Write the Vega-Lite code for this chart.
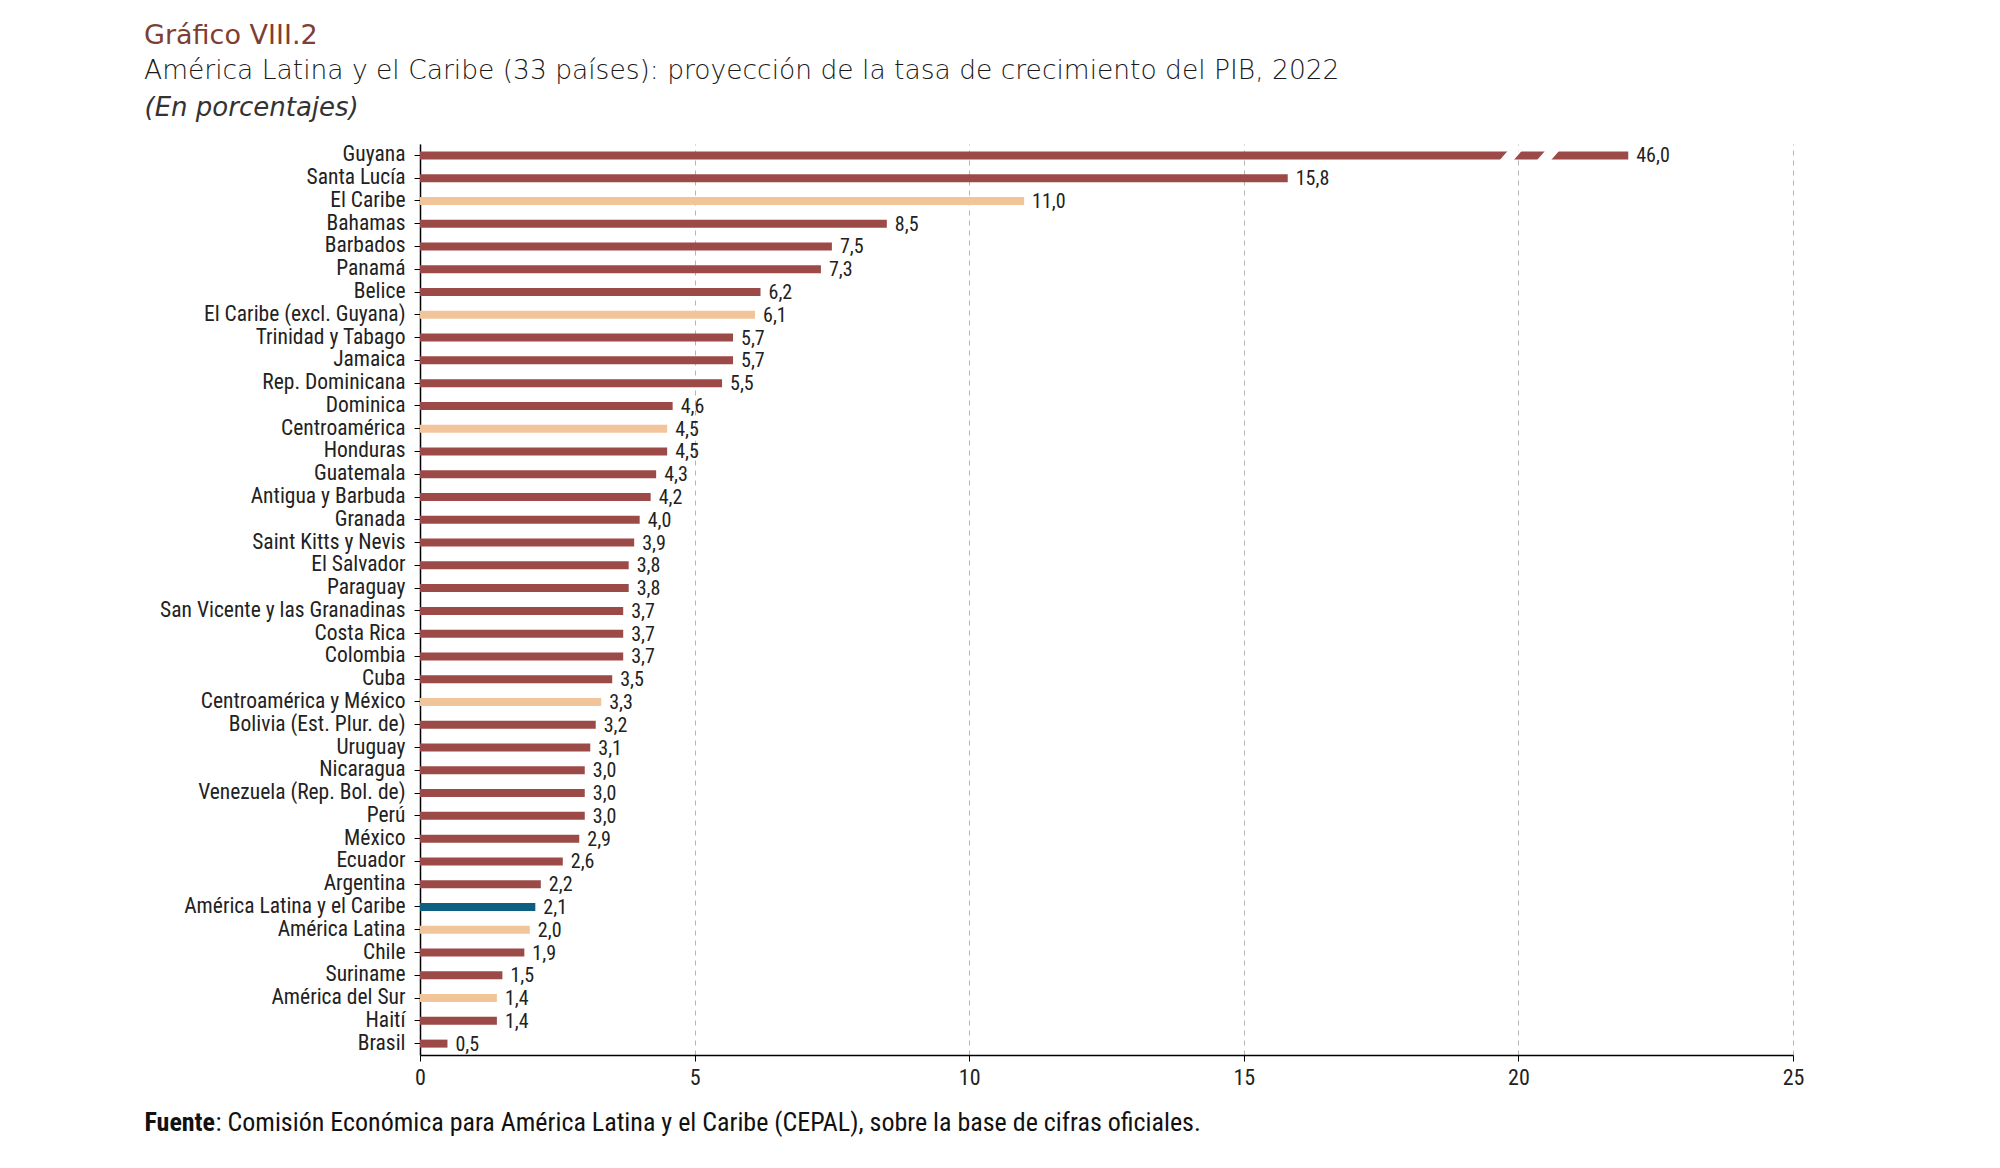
{
  "$schema": "https://vega.github.io/schema/vega-lite/v6.json",
  "width": 1373,
  "height": 911,
  "autosize": {"type": "none"},
  "padding": {"left": 420, "top": 144, "right": 207, "bottom": 113},
  "background": "white",
  "config": {
    "view": {"stroke": null},
    "font": "'Roboto Condensed', 'DejaVu Sans Condensed', 'Liberation Sans Narrow', sans-serif",
    "locale": {"number": {"decimal": ",", "thousands": ".", "grouping": [3], "currency": ["", ""]}}
  },
  "title": {
    "text": "Gráfico VIII.2",
    "subtitle": "América Latina y el Caribe (33 países): proyección de la tasa de crecimiento del PIB, 2022",
    "anchor": "start",
    "frame": "group",
    "dx": -276,
    "font": "DejaVu Sans",
    "fontSize": 27,
    "fontWeight": "normal",
    "color": "#7E3F32",
    "subtitleFont": "DejaVu Sans",
    "subtitleFontSize": 26.5,
    "subtitleFontWeight": 200,
    "subtitleColor": "#1a1a1a",
    "subtitlePadding": 8,
    "offset": 9
  },
  "datasets": {
    "paises": [
      {"pais": "Guyana", "valor": 46.0, "tipo": "país"},
      {"pais": "Santa Lucía", "valor": 15.8, "tipo": "país"},
      {"pais": "El Caribe", "valor": 11.0, "tipo": "subregión"},
      {"pais": "Bahamas", "valor": 8.5, "tipo": "país"},
      {"pais": "Barbados", "valor": 7.5, "tipo": "país"},
      {"pais": "Panamá", "valor": 7.3, "tipo": "país"},
      {"pais": "Belice", "valor": 6.2, "tipo": "país"},
      {"pais": "El Caribe (excl. Guyana)", "valor": 6.1, "tipo": "subregión"},
      {"pais": "Trinidad y Tabago", "valor": 5.7, "tipo": "país"},
      {"pais": "Jamaica", "valor": 5.7, "tipo": "país"},
      {"pais": "Rep. Dominicana", "valor": 5.5, "tipo": "país"},
      {"pais": "Dominica", "valor": 4.6, "tipo": "país"},
      {"pais": "Centroamérica", "valor": 4.5, "tipo": "subregión"},
      {"pais": "Honduras", "valor": 4.5, "tipo": "país"},
      {"pais": "Guatemala", "valor": 4.3, "tipo": "país"},
      {"pais": "Antigua y Barbuda", "valor": 4.2, "tipo": "país"},
      {"pais": "Granada", "valor": 4.0, "tipo": "país"},
      {"pais": "Saint Kitts y Nevis", "valor": 3.9, "tipo": "país"},
      {"pais": "El Salvador", "valor": 3.8, "tipo": "país"},
      {"pais": "Paraguay", "valor": 3.8, "tipo": "país"},
      {"pais": "San Vicente y las Granadinas", "valor": 3.7, "tipo": "país"},
      {"pais": "Costa Rica", "valor": 3.7, "tipo": "país"},
      {"pais": "Colombia", "valor": 3.7, "tipo": "país"},
      {"pais": "Cuba", "valor": 3.5, "tipo": "país"},
      {"pais": "Centroamérica y México", "valor": 3.3, "tipo": "subregión"},
      {"pais": "Bolivia (Est. Plur. de)", "valor": 3.2, "tipo": "país"},
      {"pais": "Uruguay", "valor": 3.1, "tipo": "país"},
      {"pais": "Nicaragua", "valor": 3.0, "tipo": "país"},
      {"pais": "Venezuela (Rep. Bol. de)", "valor": 3.0, "tipo": "país"},
      {"pais": "Perú", "valor": 3.0, "tipo": "país"},
      {"pais": "México", "valor": 2.9, "tipo": "país"},
      {"pais": "Ecuador", "valor": 2.6, "tipo": "país"},
      {"pais": "Argentina", "valor": 2.2, "tipo": "país"},
      {"pais": "América Latina y el Caribe", "valor": 2.1, "tipo": "región"},
      {"pais": "América Latina", "valor": 2.0, "tipo": "subregión"},
      {"pais": "Chile", "valor": 1.9, "tipo": "país"},
      {"pais": "Suriname", "valor": 1.5, "tipo": "país"},
      {"pais": "América del Sur", "valor": 1.4, "tipo": "subregión"},
      {"pais": "Haití", "valor": 1.4, "tipo": "país"},
      {"pais": "Brasil", "valor": 0.5, "tipo": "país"}
    ],
    "cortes": [
      {"corte": 19.86},
      {"corte": 20.54}
    ]
  },
  "data": {"name": "paises"},
  "encoding": {
    "y": {
      "field": "pais",
      "type": "nominal",
      "sort": null,
      "scale": {"paddingInner": 0, "paddingOuter": 0},
      "axis": {
        "title": "(En porcentajes)",
        "titleFont": "DejaVu Sans",
        "titleFontSize": 26,
        "titleFontStyle": "italic",
        "titleFontWeight": 200,
        "titleColor": "#333333",
        "titleAngle": 0,
        "titleAlign": "left",
        "titleBaseline": "middle",
        "titleX": -276,
        "titleY": -37,
        "labelFontSize": 21.5,
        "labelColor": "#222222",
        "labelPadding": 9,
        "labelLimit": 400,
        "tickSize": 6,
        "tickColor": "#000000",
        "domainColor": "#000000",
        "domainWidth": 1.5,
        "grid": false
      }
    }
  },
  "layer": [
    {
      "transform": [{"calculate": "min(datum.valor, 22)", "as": "fin"}],
      "mark": {"type": "bar", "size": 8},
      "encoding": {
        "x": {
          "field": "fin",
          "type": "quantitative",
          "scale": {"domain": [0, 25], "nice": false},
          "axis": {
            "values": [0, 5, 10, 15, 20, 25],
            "format": "d",
            "labelFlush": false,
            "grid": true,
            "gridDash": [5, 5],
            "gridColor": "#b5b5b5",
            "gridWidth": 1,
            "domainColor": "#000000",
            "domainWidth": 1.5,
            "tickColor": "#000000",
            "tickSize": 6,
            "labelFontSize": 22,
            "labelColor": "#222222",
            "labelPadding": 6,
            "title": ": Comisión Económica para América Latina y el Caribe (CEPAL), sobre la base de cifras oficiales.",
            "titleFontSize": 26,
            "titleFontWeight": "normal",
            "titleColor": "#111111",
            "titleAlign": "left",
            "titleBaseline": "middle",
            "titleX": -205,
            "titleY": 67
          }
        },
        "color": {
          "field": "tipo",
          "type": "nominal",
          "scale": {"domain": ["país", "subregión", "región"], "range": ["#9C4A48", "#F2C49A", "#0D5F82"]},
          "legend": null
        }
      }
    },
    {
      "transform": [{"calculate": "min(datum.valor, 22)", "as": "fin"}],
      "mark": {"type": "text", "align": "left", "baseline": "middle", "dx": 8, "dy": 1, "fontSize": 20, "color": "#222222"},
      "encoding": {
        "x": {
          "field": "fin",
          "type": "quantitative",
          "axis": {
            "orient": "top",
            "domain": false,
            "labels": false,
            "ticks": false,
            "grid": false,
            "title": "Fuente",
            "titleFontSize": 26,
            "titleFontWeight": "bold",
            "titleColor": "#111111",
            "titleAlign": "left",
            "titleBaseline": "middle",
            "titleX": -276,
            "titleY": 978
          }
        },
        "text": {"field": "valor", "type": "quantitative", "format": ".1f"}
      }
    },
    {
      "data": {"name": "cortes"},
      "mark": {
        "type": "point",
        "shape": "M -1.09 0.45 L 0.31 0.45 L 1.09 -0.45 L -0.31 -0.45 Z",
        "size": 400,
        "filled": true,
        "color": "white",
        "opacity": 1,
        "strokeWidth": 0
      },
      "encoding": {
        "x": {"field": "corte", "type": "quantitative", "axis": null},
        "y": {"datum": "Guyana"}
      }
    }
  ],
  "resolve": {"axis": {"x": "independent"}}
}
